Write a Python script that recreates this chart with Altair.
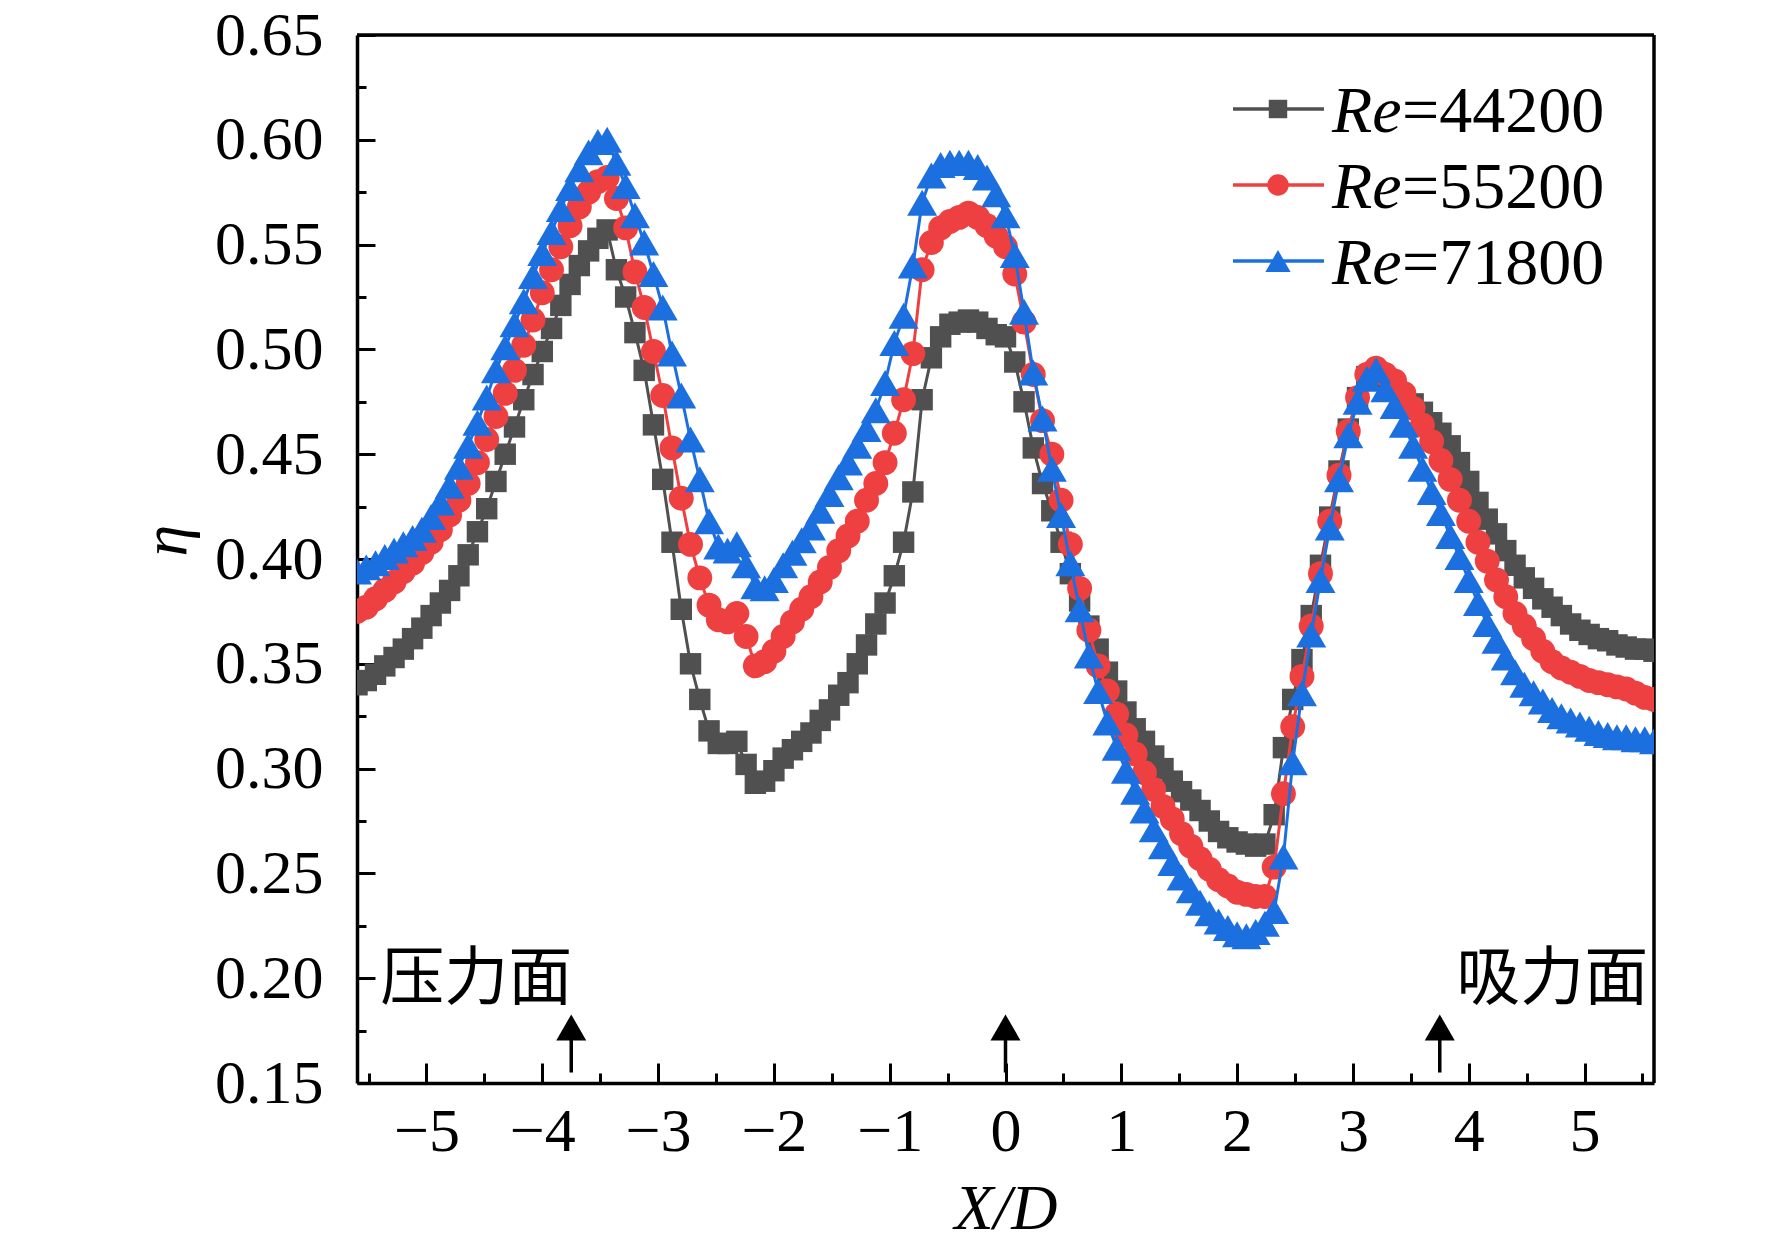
import altair as alt
import numpy as np
import pandas as pd

# sampling positions X/D
x_pos = np.round(np.arange(-5.60, 5.601, 0.08), 2)

eta_44200 = [
    0.340, 0.342, 0.345, 0.349, 0.353, 0.357, 0.362, 0.367, 0.373, 0.379,
    0.385, 0.392, 0.402, 0.413, 0.424, 0.437, 0.450, 0.463, 0.476, 0.488,
    0.499, 0.510, 0.521, 0.531, 0.540, 0.547, 0.553, 0.557,
    0.538, 0.525, 0.508, 0.490, 0.464, 0.438, 0.408, 0.376, 0.350, 0.333,
    0.318, 0.312, 0.312, 0.313, 0.302, 0.293, 0.294, 0.299,
    0.305, 0.309, 0.313, 0.317, 0.323, 0.328, 0.335, 0.341, 0.350, 0.359,
    0.369, 0.379, 0.392, 0.408, 0.432, 0.476, 0.496, 0.506, 0.512, 0.513,
    0.514, 0.513, 0.510, 0.507,
    0.506, 0.494, 0.475, 0.453, 0.436, 0.423, 0.408, 0.393, 0.380, 0.368,
    0.357, 0.346, 0.337, 0.327, 0.319, 0.313, 0.306, 0.300, 0.294, 0.289,
    0.285, 0.280, 0.275, 0.270, 0.267, 0.265, 0.264, 0.263, 0.264,
    0.278, 0.310, 0.333, 0.352, 0.373, 0.397, 0.420, 0.442, 0.462, 0.477, 0.487, 0.489,
    0.486, 0.481, 0.477, 0.474, 0.470, 0.465, 0.460, 0.454, 0.446, 0.437,
    0.427, 0.419, 0.412, 0.404, 0.397, 0.391, 0.386, 0.381, 0.377, 0.373,
    0.369, 0.366, 0.364, 0.362, 0.361, 0.359, 0.358, 0.357, 0.357, 0.356,
]

eta_55200 = [
    0.375, 0.377, 0.381, 0.385, 0.389, 0.394, 0.398, 0.403, 0.408, 0.414,
    0.421, 0.428, 0.436, 0.446, 0.457, 0.468, 0.479, 0.490, 0.502, 0.514,
    0.527, 0.538, 0.549, 0.559, 0.568, 0.575, 0.580, 0.582,
    0.572, 0.558, 0.537, 0.520, 0.499, 0.478, 0.453, 0.429, 0.407, 0.391,
    0.378, 0.371, 0.370, 0.374, 0.363, 0.349, 0.351, 0.356,
    0.363, 0.370, 0.376, 0.382, 0.389, 0.396, 0.404, 0.411, 0.418, 0.428,
    0.436, 0.446, 0.460, 0.476, 0.498, 0.538, 0.551, 0.558, 0.561, 0.563,
    0.565, 0.563, 0.559, 0.554,
    0.549, 0.536, 0.513, 0.488, 0.466, 0.450, 0.428, 0.407, 0.386, 0.366,
    0.349, 0.337, 0.326, 0.316, 0.307, 0.298, 0.290, 0.282, 0.276, 0.269,
    0.263, 0.257, 0.252, 0.247, 0.244, 0.241, 0.240, 0.239, 0.239,
    0.253, 0.288, 0.320, 0.344, 0.368, 0.393, 0.418, 0.440, 0.461, 0.477, 0.488, 0.491,
    0.488, 0.485, 0.479, 0.472, 0.464, 0.456, 0.447, 0.438, 0.428, 0.418,
    0.408, 0.399, 0.390, 0.382, 0.374, 0.368, 0.362, 0.356, 0.351, 0.348,
    0.346, 0.344, 0.342, 0.341, 0.340, 0.339, 0.338, 0.336, 0.334, 0.333,
]

eta_71800 = [
    0.394, 0.396, 0.398, 0.401, 0.404, 0.407, 0.410, 0.414, 0.420, 0.427,
    0.435, 0.444, 0.454, 0.465, 0.477, 0.490, 0.501, 0.512, 0.523, 0.535,
    0.546, 0.556, 0.567, 0.577, 0.586, 0.594, 0.599, 0.600,
    0.589, 0.578, 0.564, 0.551, 0.536, 0.520, 0.498, 0.478, 0.457, 0.438,
    0.418, 0.406, 0.404, 0.407, 0.397, 0.387, 0.386, 0.390,
    0.397, 0.403, 0.409, 0.415, 0.423, 0.431, 0.439, 0.446, 0.454, 0.462,
    0.471, 0.484, 0.503, 0.516, 0.540, 0.570, 0.583, 0.588, 0.589, 0.589,
    0.589, 0.587, 0.582, 0.574,
    0.564, 0.545, 0.518, 0.489, 0.467, 0.443, 0.421, 0.398, 0.376, 0.354,
    0.337, 0.322, 0.310, 0.299, 0.289, 0.280, 0.271, 0.263, 0.255, 0.248,
    0.242, 0.236, 0.231, 0.227, 0.224, 0.221, 0.220, 0.222, 0.226,
    0.232, 0.258, 0.303, 0.336, 0.364, 0.390, 0.415, 0.438, 0.459, 0.475, 0.486, 0.490,
    0.481, 0.473, 0.464, 0.454, 0.443, 0.432, 0.422, 0.411, 0.401, 0.390,
    0.379, 0.369, 0.361, 0.353, 0.346, 0.340, 0.336, 0.332, 0.328, 0.325,
    0.323, 0.321, 0.319, 0.317, 0.316, 0.315, 0.315, 0.314, 0.314, 0.313,
]

re_labels = ["44200", "55200", "71800"]
colors = ["#505050", "#ee4040", "#1c6fdf"]
shapes = ["square", "circle", "triangle-up"]
sizes = [460, 620, 900]
legend_sizes = [340, 460, 640]

x_ticks = [-5, -4, -3, -2, -1, 0, 1, 2, 3, 4, 5]
x_minor = [-5.5, -4.5, -3.5, -2.5, -1.5, -0.5, 0.5, 1.5, 2.5, 3.5, 4.5, 5.5]
y_ticks = [0.15, 0.20, 0.25, 0.30, 0.35, 0.40, 0.45, 0.50, 0.55, 0.60, 0.65]
y_minor = [0.175, 0.225, 0.275, 0.325, 0.375, 0.425, 0.475, 0.525, 0.575, 0.625]

arrow_x = [-3.75, 0.0, 3.75]
note_text = ["压力面", "吸力面"]
note_x = [-5.40, 5.55]
note_y = [0.199, 0.199]

W, H = 1297, 1048
serif = "Liberation Serif"
cjk = "Noto Sans CJK SC"

sx = alt.Scale(domain=[-5.6, 5.6], nice=False, zero=False)
sy = alt.Scale(domain=[0.15, 0.65], nice=False, zero=False)

dummy = pd.DataFrame({"x": [0.0], "eta": [0.4]})

# axis with labels and titles
label_axes = alt.Chart(dummy).mark_point(opacity=0).encode(
    x=alt.X("x:Q", scale=sx, axis=alt.Axis(
        orient="bottom", values=x_ticks, format="d", ticks=False, tickSize=0,
        grid=False, domain=True, domainColor="black", domainWidth=3.5,
        labelFont=serif, labelFontSize=62, labelColor="black", labelPadding=18,
        labelFlush=False, labelOverlap=False,
        title="X/D", titleFont=serif, titleFontSize=64, titleFontStyle="italic",
        titleFontWeight="normal", titleColor="black", titleY=145,
        titleBaseline="alphabetic")),
    y=alt.Y("eta:Q", scale=sy, axis=alt.Axis(
        orient="left", values=y_ticks, format=".2f", ticks=False, tickSize=0,
        grid=False, domain=True, domainColor="black", domainWidth=3.5,
        labelFont=serif, labelFontSize=62, labelColor="black", labelPadding=34,
        labelFlush=False, labelOverlap=False,
        title="η", titleFont=serif, titleFontSize=64, titleFontStyle="italic",
        titleFontWeight="normal", titleColor="black", titleAngle=270,
        titleX=-191, titleY=505, titleAlign="center", titleBaseline="middle")),
)


def tick_axes(xv, yv, xlen, ylen):
    return alt.Chart(dummy).mark_point(opacity=0).encode(
        x=alt.X("x:Q", scale=sx, title="", axis=alt.Axis(
            orient="top", offset=-H, values=xv, labels=False, domain=False,
            grid=False, tickSize=xlen, tickWidth=3, tickColor="black")),
        y=alt.Y("eta:Q", scale=sy, title="", axis=alt.Axis(
            orient="right", offset=-W, values=yv, labels=False, domain=False,
            grid=False, tickSize=ylen, tickWidth=3, tickColor="black")),
    )


layers = [label_axes, tick_axes(x_ticks, y_ticks, 20, 18), tick_axes(x_minor, y_minor, 10, 9)]

# top and right frame
one = pd.DataFrame({"k": [0]})
layers.append(alt.Chart(one).mark_rule(color="black", strokeWidth=3.5).encode(
    x=alt.value(0), x2=alt.value(W), y=alt.value(0)))
layers.append(alt.Chart(one).mark_rule(color="black", strokeWidth=3.5).encode(
    x=alt.value(W), y=alt.value(0), y2=alt.value(H)))

for vals, col, shp, sz in zip([eta_44200, eta_55200, eta_71800], colors, shapes, sizes):
    df = pd.DataFrame({"x": x_pos, "eta": vals})
    enc = dict(x=alt.X("x:Q", scale=sx, axis=None), y=alt.Y("eta:Q", scale=sy, axis=None))
    layers.append(alt.Chart(df).mark_line(color=col, strokeWidth=3, clip=True).encode(**enc))
    layers.append(alt.Chart(df).mark_point(shape=shp, size=sz, filled=True, color=col,
                                           opacity=1, clip=True).encode(**enc))

# arrows marking the blade positions
arrows = pd.DataFrame({"x": arrow_x})
layers.append(alt.Chart(arrows).mark_rule(color="black", strokeWidth=3.5).encode(
    x=alt.X("x:Q", scale=sx, axis=None),
    y=alt.YDatum(0.155, scale=sy, axis=None),
    y2=alt.Y2Datum(0.173),
))
layers.append(alt.Chart(arrows).mark_point(shape="triangle-up", size=900, filled=True,
                                           color="black", opacity=1).encode(
    x=alt.X("x:Q", scale=sx, axis=None),
    y=alt.YDatum(0.1765, scale=sy, axis=None),
))

# side labels
notes = pd.DataFrame({"x": note_x, "eta": note_y, "t": note_text})
for i, al in enumerate(["left", "right"]):
    layers.append(alt.Chart(notes.iloc[[i]]).mark_text(
        font=cjk, fontSize=64, align=al, baseline="middle", color="black").encode(
        x=alt.X("x:Q", scale=sx, axis=None),
        y=alt.Y("eta:Q", scale=sy, axis=None),
        text="t:N",
    ))

# legend drawn by hand so that "Re" can be italic
row_base = [97, 173, 249]
for lab, col, shp, sz, yb in zip(re_labels, colors, shapes, legend_sizes, row_base):
    ly = yb - 23
    layers.append(alt.Chart(one).mark_rule(color=col, strokeWidth=3.5).encode(
        x=alt.value(876), x2=alt.value(967), y=alt.value(ly)))
    layers.append(alt.Chart(one).mark_point(shape=shp, size=sz, filled=True, color=col,
                                            opacity=1).encode(x=alt.value(921), y=alt.value(ly)))
    layers.append(alt.Chart(one).mark_text(
        text="Re", font=serif, fontSize=66, fontStyle="italic", align="left",
        baseline="alphabetic", color="black").encode(x=alt.value(975), y=alt.value(yb)))
    layers.append(alt.Chart(one).mark_text(
        text="=" + lab, font=serif, fontSize=66, align="left",
        baseline="alphabetic", color="black").encode(x=alt.value(1045), y=alt.value(yb)))

chart = alt.layer(*layers).resolve_axis(
    x="independent", y="independent"
).properties(
    width=W, height=H,
    padding={"left": 349, "top": 27, "right": 100, "bottom": 162},
    autosize=alt.AutoSizeParams(type="none"),
).configure_view(
    stroke="black", strokeWidth=3.5
).configure(background="white")

chart.save("out.html", embed_options={"renderer": "svg", "actions": False})
